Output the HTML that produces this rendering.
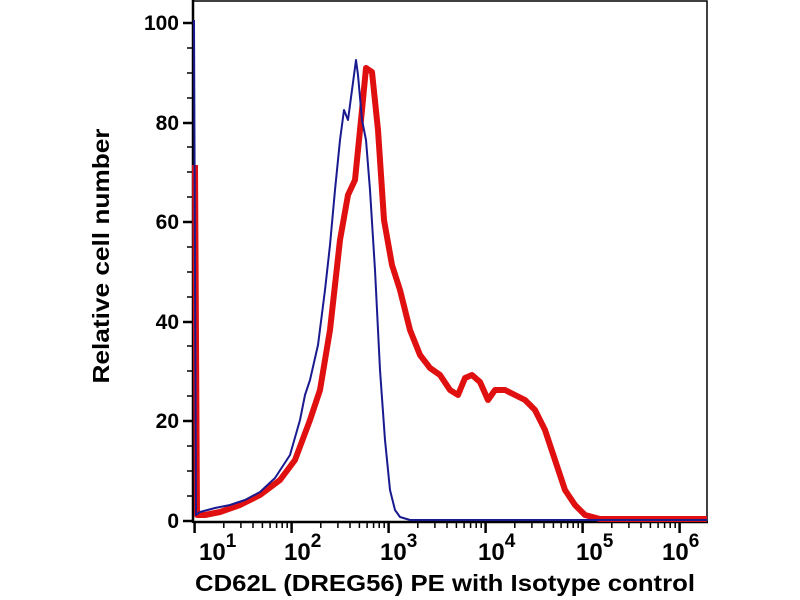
<!DOCTYPE html>
<html><head><meta charset="utf-8"><style>body{margin:0;background:#fff}svg{display:block}</style></head><body>
<svg width="800" height="600" viewBox="0 0 800 600" xmlns="http://www.w3.org/2000/svg" font-family="Liberation Sans, Arial, sans-serif" font-weight="bold">
<rect width="800" height="600" fill="#fff"/>
<path d="M193,1 H707 V522" fill="none" stroke="#000" stroke-width="1.5"/>
<line x1="193" y1="0" x2="193" y2="523" stroke="#000" stroke-width="2.5"/>
<line x1="193" y1="522" x2="708" y2="522" stroke="#000" stroke-width="2.5"/>
<g stroke="#000" stroke-width="2.5">
<line x1="183" y1="521" x2="193" y2="521"/><line x1="183" y1="421" x2="193" y2="421"/><line x1="183" y1="322" x2="193" y2="322"/><line x1="183" y1="222" x2="193" y2="222"/><line x1="183" y1="123" x2="193" y2="123"/><line x1="183" y1="23" x2="193" y2="23"/>
</g>
<g stroke="#000" stroke-width="1.5">
<line x1="187" y1="496" x2="193" y2="496"/><line x1="187" y1="471" x2="193" y2="471"/><line x1="187" y1="446" x2="193" y2="446"/>
<line x1="187" y1="396" x2="193" y2="396"/><line x1="187" y1="371" x2="193" y2="371"/><line x1="187" y1="346" x2="193" y2="346"/>
<line x1="187" y1="297" x2="193" y2="297"/><line x1="187" y1="272" x2="193" y2="272"/><line x1="187" y1="247" x2="193" y2="247"/>
<line x1="187" y1="197" x2="193" y2="197"/><line x1="187" y1="172" x2="193" y2="172"/><line x1="187" y1="147" x2="193" y2="147"/>
<line x1="187" y1="98" x2="193" y2="98"/><line x1="187" y1="73" x2="193" y2="73"/><line x1="187" y1="48" x2="193" y2="48"/>
</g>
<g stroke="#000" stroke-width="2.5">
<line x1="194.6" y1="522" x2="194.6" y2="533"/><line x1="291.6" y1="522" x2="291.6" y2="533"/><line x1="388.6" y1="522" x2="388.6" y2="533"/><line x1="485.6" y1="522" x2="485.6" y2="533"/><line x1="582.6" y1="522" x2="582.6" y2="533"/><line x1="679.6" y1="522" x2="679.6" y2="533"/>
</g>
<g stroke="#000" stroke-width="1.5">
<path d="M223.8,522v6M240.9,522v6M253,522v6M262.4,522v6M270.1,522v6M276.6,522v6M282.2,522v6M287.2,522v6
M320.8,522v6M337.9,522v6M350,522v6M359.4,522v6M367.1,522v6M373.6,522v6M379.2,522v6M384.2,522v6
M417.8,522v6M434.9,522v6M447,522v6M456.4,522v6M464.1,522v6M470.6,522v6M476.2,522v6M481.2,522v6
M514.8,522v6M531.9,522v6M544,522v6M553.4,522v6M561.1,522v6M567.6,522v6M573.2,522v6M578.2,522v6
M611.8,522v6M628.9,522v6M641,522v6M650.4,522v6M658.1,522v6M664.6,522v6M670.2,522v6M675.2,522v6"/>
</g>
<g font-size="21" text-anchor="end" fill="#000">
<text x="179" y="528">0</text><text x="179" y="428">20</text><text x="179" y="329">40</text><text x="179" y="229">60</text><text x="179" y="130">80</text><text x="179" y="30">100</text>
</g>
<g font-size="24" fill="#000">
<text x="199" y="560">10<tspan dy="-13" font-size="19">1</tspan></text>
<text x="284" y="560">10<tspan dy="-13" font-size="19">2</tspan></text>
<text x="380" y="560">10<tspan dy="-13" font-size="19">3</tspan></text>
<text x="478" y="560">10<tspan dy="-13" font-size="19">4</tspan></text>
<text x="576" y="560">10<tspan dy="-13" font-size="19">5</tspan></text>
<text x="662" y="560">10<tspan dy="-13" font-size="19">6</tspan></text>
</g>
<text x="445" y="591" font-size="23" text-anchor="middle" textLength="500" lengthAdjust="spacingAndGlyphs">CD62L (DREG56) PE with Isotype control</text>
<text transform="translate(109,256) rotate(-90)" font-size="23" text-anchor="middle" textLength="255" lengthAdjust="spacingAndGlyphs">Relative cell number</text>
<polyline fill="none" stroke="#e01010" stroke-width="6" stroke-linejoin="round" points="195,165 197,515 205,515 220,512 240,505 260,495 280,480 295,460 310,420 320,390 330,330 340,240 348,195 355,180 362,110 366,68 372,72 378,130 384,220 392,265 400,290 410,330 420,355 430,368 440,375 450,390 458,395 465,378 472,375 480,382 488,400 495,390 505,390 515,395 525,400 535,410 545,430 555,460 565,490 575,505 585,515 600,519 707,519"/>
<polyline fill="none" stroke="#1a1a90" stroke-width="2" stroke-linejoin="round" points="194,20 196,515 200,512 215,508 230,505 245,500 260,492 275,478 290,455 300,420 305,395 310,380 318,345 325,290 330,245 335,190 340,140 344,110 348,120 352,90 356,60 358,75 362,120 366,140 370,190 375,270 380,370 385,440 390,490 395,510 400,517 410,520 707,520"/>
</svg>
</body></html>
